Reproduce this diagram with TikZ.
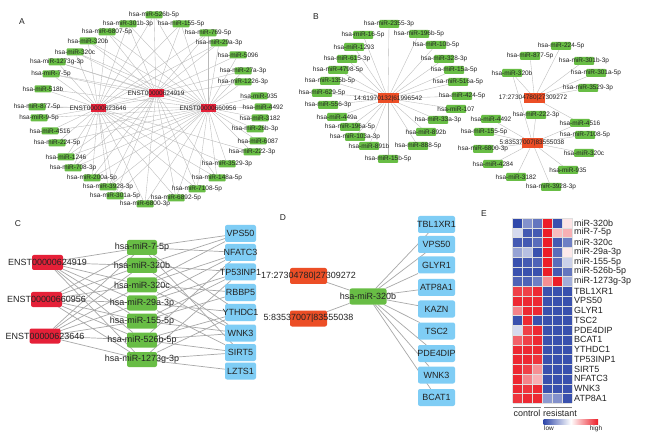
\documentclass[tikz,border=0pt]{standalone}
\usepackage{fontspec}
\setmainfont{Liberation Sans}
\usetikzlibrary{backgrounds}
\definecolor{grn}{RGB}{104,189,69}
\definecolor{crim}{RGB}{229,32,56}
\definecolor{orn}{RGB}{236,78,38}
\definecolor{sky}{RGB}{127,205,245}
\definecolor{edg}{RGB}{185,185,185}
\definecolor{edgC}{RGB}{168,168,168}
\definecolor{hb}{RGB}{48,72,170}
\definecolor{hr}{RGB}{236,30,40}
\definecolor{txt}{RGB}{35,35,35}
\tikzset{
 boxA/.style={fill=grn, rounded corners=1bp, minimum width=17bp, minimum height=7bp, inner sep=0pt, outer sep=0pt},
 hubA/.style={fill=crim, minimum width=15bp, minimum height=8bp, inner sep=0pt, outer sep=0pt},
 boxB/.style={fill=grn, rounded corners=1bp, minimum width=20bp, minimum height=8bp, inner sep=0pt, outer sep=0pt},
 hubB/.style={fill=orn, minimum width=21bp, minimum height=10bp, inner sep=0pt, outer sep=0pt},
 tsm/.style={font=\fontsize{6.5}{7}\selectfont, text=txt, inner sep=0pt},
 tbg/.style={font=\fontsize{9}{10}\selectfont, text=txt, inner sep=0pt},
 lnA/.style={draw=edg, line width=0.35bp},
 lnC/.style={draw=edgC, line width=0.7bp},
 enst/.style={fill=crim, rounded corners=2bp, minimum width=31bp, minimum height=15bp, inner sep=0pt, outer sep=0pt},
 mirC/.style={fill=grn, rounded corners=2bp, minimum width=30bp, minimum height=15bp, inner sep=0pt, outer sep=0pt},
 tgt/.style={fill=sky, rounded corners=2bp, minimum width=31bp, minimum height=17bp, inner sep=0pt, outer sep=0pt},
 tgtD/.style={tgt, minimum width=37bp},
 hubD/.style={fill=orn, rounded corners=2bp, minimum width=37bp, minimum height=16bp, inner sep=0pt, outer sep=0pt},
 mirD/.style={fill=grn, rounded corners=2bp, minimum width=37bp, minimum height=16bp, inner sep=0pt, outer sep=0pt},
 plbl/.style={font=\fontsize{8.5}{9}\selectfont, text=txt, inner sep=0pt},
 heatcell/.style={draw=white!75!gray, line width=0.25bp},
}
\begin{document}
\begin{tikzpicture}[x=1bp,y=-1bp]
\useasboundingbox (0,0) rectangle (655,435);

% ---------- panel labels
\node[plbl] (LA) at (22,22) {A};
\node[plbl] (LB) at (316,17) {B};
\node[plbl] (LC) at (18,224) {C};
\node[plbl] (LD) at (283,218) {D};
\node[plbl] (LE) at (484,214) {E};

% ---------- panel A
\foreach \n/\x/\y/\t in {
1/154/15/hsa-miR-526b-5p, 2/128/24/hsa-miR-301b-3p, 3/181/24/hsa-miR-155-5p,
4/107/32/hsa-miR-6807-5p, 5/208/33/hsa-miR-769-5p, 6/88/41/hsa-miR-320b,
7/219/43/hsa-miR-29a-3p, 8/75/52/hsa-miR-320c, 9/238/55/hsa-miR-5096,
10/57/62/hsa-miR-1273g-3p, 11/243/71/hsa-miR-27a-3p, 12/51/74/hsa-miR-7-5p,
13/243/82/hsa-miR-1226-3p, 14/43/89/hsa-miR-518b, 15/259/96/hsa-miR-935,
16/37/107/hsa-miR-877-5p, 17/263/107/hsa-miR-4492, 18/39/118/hsa-miR-9-5p,
19/260/118/hsa-miR-3182, 20/50/131/hsa-miR-4516, 21/255/129/hsa-miR-26b-3p,
22/57/143/hsa-miR-224-5p, 23/258/141/hsa-miR-6087, 24/252/152/hsa-miR-222-3p,
25/66/157/hsa-miR-1246, 26/227/164/hsa-miR-3529-3p, 27/73/168/hsa-miR-708-3p,
28/217/178/hsa-miR-148a-5p, 29/92/178/hsa-miR-200a-5p, 30/108/187/hsa-miR-3928-3p,
31/197/189/hsa-miR-7108-5p, 32/115/196/hsa-miR-301a-5p, 33/176/198/hsa-miR-6892-5p,
34/145/204/hsa-miR-6800-3p}{
  \node[boxA] (a\n) at (\x,\y) {};
  \node[tsm] (ta\n) at (a\n) {\t};
}
\node[hubA] (hP) at (156,93) {};
\node[tsm] (thP) at (hP) {ENST00000624919};
\node[hubA] (hQ) at (98,108) {};
\node[tsm] (thQ) at (hQ) {ENST00000623646};
\node[hubA] (hR) at (208,108) {};
\node[tsm] (thR) at (hR) {ENST00000660956};

% ---------- panel B, cluster 1
\foreach \n/\x/\y/\t in {
1/389/24/hsa-miR-2355-3p, 2/363/35/hsa-miR-16-5p, 3/419/34/hsa-miR-196b-5p,
4/354/47/hsa-miR-1293, 5/436/45/hsa-miR-10b-5p, 6/347/59/hsa-miR-615-3p,
7/444/59/hsa-miR-328-3p, 8/338/70/hsa-miR-4798-5p, 9/454/70/hsa-miR-15a-5p,
10/330/81/hsa-miR-135b-5p, 11/458/82/hsa-miR-516a-5p, 12/322/93/hsa-miR-629-5p,
13/462/96/hsa-miR-424-5p, 14/328/105/hsa-miR-556-3p, 15/456/109/hsa-miR-107,
16/337/117/hsa-miR-449a, 17/438/120/hsa-miR-33a-3p, 18/350/127/hsa-miR-196a-5p,
19/426/132/hsa-miR-892b, 20/355/137/hsa-miR-103a-3p, 21/369/146/hsa-miR-891b,
22/418/146/hsa-miR-888-5p, 23/388/159/hsa-miR-15b-5p}{
  \node[boxB] (b\n) at (\x,\y) {};
  \node[tsm] (tb\n) at (b\n) {\t};
}
\node[hubB] (hB1) at (388,98.5) {};
\node[tsm] (thB1) at (hB1) {14:61970132|61996542};

% ---------- panel B, cluster 2
\foreach \n/\x/\y/\t in {
1/561/46/hsa-miR-224-5p, 2/530/56/hsa-miR-877-5p, 3/584/61/hsa-miR-301b-3p,
4/596/73/hsa-miR-301a-5p, 5/512/73/hsa-miR-320b, 6/588/88/hsa-miR-3529-3p,
7/536/115/hsa-miR-222-3p, 8/491/119/hsa-miR-4492, 9/580/123/hsa-miR-4516,
10/484/132/hsa-miR-155-5p, 11/585/135/hsa-miR-7108-5p, 12/483/149/hsa-miR-6800-3p,
13/584/153/hsa-miR-320c, 14/493/164/hsa-miR-4284, 15/568/170/hsa-miR-935,
16/516/177/hsa-miR-3182, 17/551/187/hsa-miR-3928-3p}{
  \node[boxB] (k\n) at (\x,\y) {};
  \node[tsm] (tk\n) at (k\n) {\t};
}
\node[hubB] (hB2) at (534.5,98) {};
\node[tsm] (thB2) at (533,98) {17:27304780|27309272};
\node[hubB] (hB3) at (532.5,143) {};
\node[tsm] (thB3) at (532,143) {5:83537007|83555038};

% ---------- panel C
\node[enst] (c1) at (47.5,262.5) {};
\node[tbg] (tc1) at (c1) {ENST00000624919};
\node[enst] (c2) at (46.5,299.5) {};
\node[tbg] (tc2) at (c2) {ENST00000660956};
\node[enst] (c3) at (45,336) {};
\node[tbg] (tc3) at (c3) {ENST00000623646};
\foreach \n/\y/\t in {1/247.5/hsa-miR-7-5p, 2/265.5/hsa-miR-320b, 3/285/hsa-miR-320c,
 4/303/hsa-miR-29a-3p, 5/321/hsa-miR-155-5p, 6/340/hsa-miR-526b-5p, 7/359.5/hsa-miR-1273g-3p}{
  \node[mirC] (m\n) at (142,\y) {};
  \node[tbg] (tm\n) at (m\n) {\t};
}
\foreach \n/\y/\t in {1/233.5/VPS50, 2/252.5/NFATC3, 3/272/TP53INP1, 4/292.5/RBBP5,
 5/312.5/YTHDC1, 6/333/WNK3, 7/352.5/SIRT5, 8/371/LZTS1}{
  \node[tgt] (g\n) at (240.5,\y) {};
  \node[tbg] (tg\n) at (g\n) {\t};
}

% ---------- panel D
\node[hubD] (d17) at (308.5,276) {};
\node[tbg] (td17) at (d17) {17:27304780|27309272};
\node[hubD] (d5) at (308.5,318.5) {};
\node[tbg] (td5) at (d5) {5:83537007|83555038};
\node[mirD] (dm) at (368,296.5) {};
\node[tbg] (tdm) at (dm) {hsa-miR-320b};
\foreach \n/\y/\t in {1/224.5/TBL1XR1, 2/244.5/VPS50, 3/265/GLYR1, 4/287.5/ATP8A1,
 5/309/KAZN, 6/331/TSC2, 7/353.5/PDE4DIP, 8/375/WNK3, 9/397.5/BCAT1}{
  \node[tgtD] (dt\n) at (436.5,\y) {};
  \node[tbg] (tdt\n) at (dt\n) {\t};
}

% ---------- edges (behind the nodes)
\begin{pgfonlayer}{background}
\fill[white] (0,0) rectangle (655,435);
\foreach \n in {1,...,34} \draw[lnA] (a\n) -- (hR);
\foreach \n in {1,2,3,4,5,6,7,8,10,11,12,13,14,16,18,20,22,24,25,26,27,28,29,30,31,32,33,34}
  \draw[lnA] (a\n) -- (hQ);
\foreach \n in {1,2,3,4,5,6,7,8,9,10,12,25,27,28,29,30,31,32,33,34}
  \draw[lnA] (a\n) -- (hP);
\foreach \n in {1,...,23} \draw[lnA] (b\n) -- (hB1);
\foreach \n in {1,2,3,4,5,6,9} \draw[lnA] (k\n) -- (hB2);
\foreach \n in {5,7,8,9,10,11,12,13,14,15,16,17} \draw[lnA] (k\n) -- (hB3);
\foreach \e in {1,2,3} \foreach \m in {1,...,7} \draw[lnC] (c\e) -- (m\m);
\foreach \m/\g in {1/1,1/2,1/5,1/7, 2/1,2/3,2/6, 3/1,3/2,3/4,3/6, 4/2,4/3,4/5,4/7,
  5/3,5/4,5/6, 6/2,6/5,6/6,6/7, 7/3,7/5,7/7,7/8}
  \draw[lnC] (m\m) -- (g\g);
\draw[lnC] (d17) -- (dm);
\draw[lnC] (d5) -- (dm);
\foreach \n in {1,...,9} \draw[lnC] (dm) -- (dt\n);
\end{pgfonlayer}

% ---------- panel E heatmap
\foreach \vals [count=\r] in {
{-100,-60,-75,100,-95,12},
{-20,-90,-90,100,30,35},
{-90,-90,-80,100,-90,-70},
{-50,-35,-95,100,-80,10},
{-95,-90,-85,100,-80,-25},
{-95,-95,-95,100,-90,-75},
{-85,-85,-70,50,100,-45},
{85,85,95,-95,-95,-95},
{95,95,95,-95,-95,-95},
{55,95,95,-95,-95,-95},
{-95,95,-95,-95,-95,-95},
{-20,85,95,-95,-95,-95},
{70,85,95,-95,-95,-95},
{95,95,95,-95,-95,-95},
{95,95,90,-95,-95,-95},
{95,85,50,-95,-95,-95},
{95,55,35,-95,-95,-95},
{95,90,95,-95,-95,-95},
{90,95,95,-55,-60,-95}}{
  \foreach \v [count=\c] in \vals {
    \pgfmathtruncatemacro\av{abs(\v)}
    \ifnum\v<0 \def\hc{hb}\else\def\hc{hr}\fi
    \fill[\hc!\av!white] ({512.5+(\c-1)*9.9},{218+(\r-1)*9.75}) rectangle ({512.5+\c*9.9},{218+\r*9.75});
  }
}
\foreach \c in {0,...,6} \draw[heatcell] ({512.5+\c*9.9},218) -- ({512.5+\c*9.9},403.25);
\foreach \r in {0,...,19} \draw[heatcell] (512.5,{218+\r*9.75}) -- (571.9,{218+\r*9.75});
\foreach \t [count=\r] in {miR-320b, miR-7-5p, miR-320c, miR-29a-3p, miR-155-5p, miR-526b-5p,
 miR-1273g-3p, TBL1XR1, VPS50, GLYR1, TSC2, PDE4DIP, BCAT1, YTHDC1, TP53INP1, SIRT5,
 NFATC3, WNK3, ATP8A1}{
  \node[tbg, anchor=west] (er\r) at (574,{218+(\r-0.5)*9.75}) {\t};
}
\coordinate (bc1) at (513,407);
\coordinate (bc2) at (540.5,407);
\coordinate (br1) at (544,407);
\coordinate (br2) at (572,407);
\draw[draw=gray, line width=0.5bp] (bc1) -- (bc2);
\draw[draw=gray, line width=0.5bp] (br1) -- (br2);
\node[tbg] (ectl) at (527,413) {control};
\node[tbg] (eres) at (560,413) {resistant};
\shade[left color=hb, right color=hr, middle color=white] (543.5,419) rectangle (598,424);
\node[tsm] (elow) at (549,428.5) {low};
\node[tsm] (ehigh) at (596,428.5) {high};
\end{tikzpicture}
\end{document}
